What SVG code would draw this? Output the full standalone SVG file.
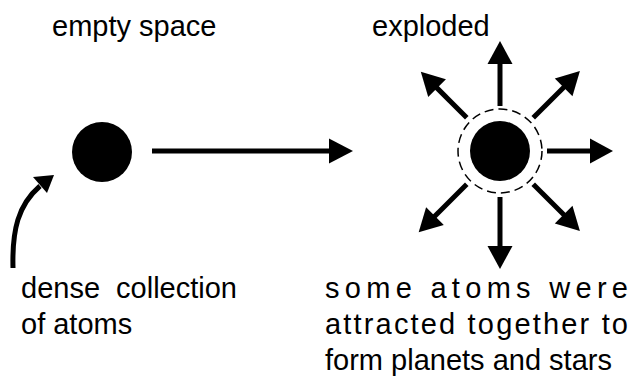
<svg xmlns="http://www.w3.org/2000/svg" width="633" height="380" viewBox="0 0 633 380">
<style>
text{font-family:"Liberation Sans",Arial,sans-serif;font-size:29px;fill:#000}
.shaft{stroke:#000;stroke-width:5;fill:none}
.head{fill:#000}
</style>
<rect width="633" height="380" fill="#fff"/>
<g id="label-empty"><text x="52" y="36">empty space</text></g>
<g id="label-exploded"><text x="372" y="36">exploded</text></g>
<g id="atom-dense"><circle cx="102" cy="152" r="30" fill="#000"/></g>
<g id="atom-exploded">
<circle cx="500" cy="151" r="42" fill="none" stroke="#000" stroke-width="1.5" stroke-dasharray="9,5"/>
<circle cx="500" cy="151" r="30" fill="#000"/>
</g>
<g id="connectors">
<line class="shaft" x1="152" y1="151" x2="330" y2="151"/>
<polygon class="head" points="329,138.5 353,151 329,163.5"/>
<path class="shaft" d="M13,268 C12,230 18,205 40,186"/>
<polygon class="head" points="54,175 33,177 47,193"/>
<g transform="translate(500,151)">
<g transform="rotate(0)"><line class="shaft" x1="47" y1="0" x2="91" y2="0"/><polygon class="head" points="90,-12.5 113,0 90,12.5"/></g>
<g transform="rotate(-90)"><line class="shaft" x1="45" y1="0" x2="88" y2="0"/><polygon class="head" points="87,-12.5 110,0 87,12.5"/></g>
<g transform="rotate(90)"><line class="shaft" x1="46" y1="0" x2="96" y2="0"/><polygon class="head" points="95,-12.5 118,0 95,12.5"/></g>
<g transform="rotate(-135)"><line class="shaft" x1="47" y1="0" x2="90" y2="0"/><polygon class="head" points="89,-12.5 112,0 89,12.5"/></g>
<g transform="rotate(-45)"><line class="shaft" x1="47" y1="0" x2="91" y2="0"/><polygon class="head" points="90,-12.5 113,0 90,12.5"/></g>
<g transform="rotate(135)"><line class="shaft" x1="47" y1="0" x2="93" y2="0"/><polygon class="head" points="92,-12.5 115,0 92,12.5"/></g>
<g transform="rotate(45)"><line class="shaft" x1="47" y1="0" x2="91" y2="0"/><polygon class="head" points="90,-12.5 113,0 90,12.5"/></g>
</g>
</g>
<g id="label-dense">
<text x="21" y="298" word-spacing="8">dense collection</text>
<text x="21" y="334">of atoms</text>
</g>
<g id="label-some">
<text x="325" y="298" textLength="303" lengthAdjust="spacing">some atoms were</text>
<text x="325" y="334" textLength="303" lengthAdjust="spacing">attracted together to</text>
<text x="325" y="370">form planets and stars</text>
</g>
</svg>
